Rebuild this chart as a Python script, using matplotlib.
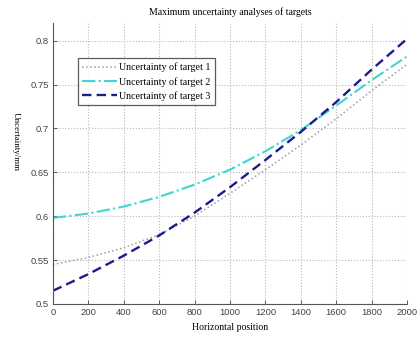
import matplotlib
matplotlib.use("Agg")
import matplotlib.pyplot as plt
import numpy as np

# horizontal positions and the three uncertainty curves
positions = [0, 200, 400, 600, 800, 1000, 1200, 1400, 1600, 1800, 2000]
target1 = [0.545, 0.553, 0.564, 0.579, 0.600, 0.626, 0.653, 0.681, 0.711, 0.743, 0.773]
target2 = [0.598, 0.603, 0.611, 0.622, 0.636, 0.653, 0.674, 0.698, 0.726, 0.755, 0.782]
target3 = [0.515, 0.534, 0.555, 0.578, 0.604, 0.633, 0.664, 0.696, 0.730, 0.767, 0.802]

labels = ["Uncertainty of target 1", "Uncertainty of target 2", "Uncertainty of target 3"]
x_ticks = np.arange(0, 2001, 200)
y_ticks = [0.5, 0.55, 0.6, 0.65, 0.7, 0.75, 0.8]

serif = "Liberation Serif"
sans = "Liberation Sans"

fig = plt.figure(figsize=(4.2, 3.4), dpi=100)
ax = fig.add_axes([0.126, 0.106, 0.843, 0.826])

ax.plot(positions, target1, linestyle=":", color="#a09aa8", linewidth=1.1, label=labels[0])
ax.plot(positions, target2, linestyle="-.", color="#3fd6d0", linewidth=1.5, label=labels[1])
ax.plot(positions, target3, linestyle="--", color="#1c1c8a", linewidth=1.7,
        dashes=(4, 2.2), label=labels[2])

ax.set_xlim(0, 2000)
ax.set_ylim(0.5, 0.82)
ax.set_xticks(x_ticks)
ax.set_yticks(y_ticks)
ax.set_xticklabels([str(v) for v in x_ticks], fontfamily=sans, fontsize=6.8, color="#444444")
ax.set_yticklabels(["0.5", "0.55", "0.6", "0.65", "0.7", "0.75", "0.8"],
                   fontfamily=sans, fontsize=6.8, color="#444444")
ax.tick_params(direction="in", length=3, width=0.6, colors="#444444", pad=3)

ax.grid(True, linestyle=":", color="#b8b8b8", linewidth=0.8)
ax.spines["top"].set_visible(False)
ax.spines["right"].set_visible(False)
ax.spines["left"].set_color("#555555")
ax.spines["bottom"].set_color("#555555")

ax.set_title("Maximum uncertainty analyses of targets", fontfamily=serif, fontsize=7, pad=6)
ax.set_xlabel("Horizontal position", fontfamily=serif, fontsize=7, labelpad=4)
ax.set_ylabel("Uncertainty/mm", fontfamily=serif, fontsize=6.5, rotation=270)
ax.yaxis.set_label_coords(-0.115, 0.58)

leg = ax.legend(loc="upper left", bbox_to_anchor=(0.07, 0.875), borderaxespad=0,
                prop={"family": serif, "size": 7.2}, frameon=True, fancybox=False,
                edgecolor="#333333", handlelength=3.5, handletextpad=0.2,
                labelspacing=0.45, borderpad=0.45)
leg.get_frame().set_linewidth(0.9)

fig.savefig("out.png", dpi=100)
